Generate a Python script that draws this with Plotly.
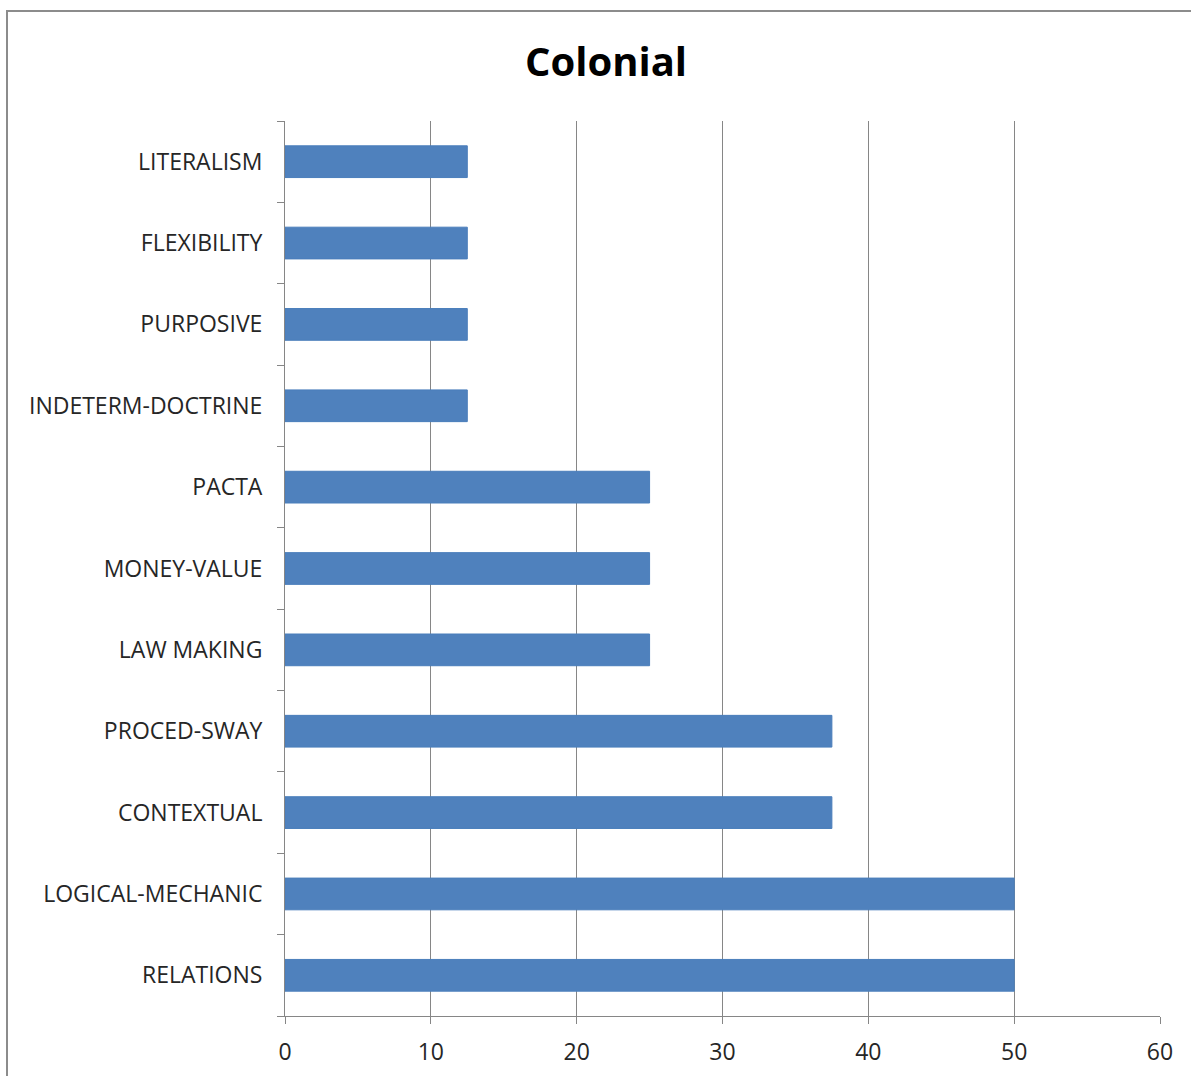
import plotly.graph_objects as go

# Categories listed bottom to top
categories = [
    "RELATIONS", "LOGICAL-MECHANIC", "CONTEXTUAL", "PROCED-SWAY",
    "LAW MAKING", "MONEY-VALUE", "PACTA", "INDETERM-DOCTRINE",
    "PURPOSIVE", "FLEXIBILITY", "LITERALISM",
]
values = [50, 50, 37.5, 37.5, 25, 25, 25, 12.5, 12.5, 12.5, 12.5]
x_ticks = [0, 10, 20, 30, 40, 50, 60]

W, H = 1191, 1076
L, R, T, B = 285, 31, 121, 60
pw, ph = W - L - R, H - T - B

font_family = "Open Sans, Lato, sans-serif"
axis_gray = "#868686"
label_color = "#262626"

fig = go.Figure(
    go.Bar(
        x=values,
        y=categories,
        orientation="h",
        width=0.39,
        marker=dict(color="#4F81BD", line=dict(color="#4A7EBB", width=1)),
        hoverinfo="x+y",
    )
)

# Outer chart frame
def px_to_paper_x(px):
    return (px - L) / pw

def px_to_paper_y(py):
    return (H - B - py) / ph

fig.add_shape(
    type="rect", xref="paper", yref="paper",
    x0=px_to_paper_x(7), x1=px_to_paper_x(W + 20),
    y0=px_to_paper_y(H + 20), y1=px_to_paper_y(11),
    line=dict(color="#8c8c8c", width=2),
    layer="below",
)

fig.update_layout(
    width=W, height=H,
    margin=dict(l=L, r=R, t=T, b=B, pad=0, autoexpand=False),
    paper_bgcolor="white",
    plot_bgcolor="white",
    showlegend=False,
    bargap=0.6,
    title=dict(
        text="<b>Colonial</b>",
        x=606 / W, xanchor="center",
        y=1 - 62 / H, yanchor="middle",
        font=dict(family=font_family, size=40, color="black"),
    ),
    xaxis=dict(
        range=[0, 60],
        tickvals=x_ticks,
        automargin=False,
        showgrid=True,
        gridcolor=axis_gray,
        gridwidth=1,
        zeroline=False,
        showline=True,
        linecolor=axis_gray,
        linewidth=1,
        ticks="outside",
        ticklen=7,
        tickcolor=axis_gray,
        ticklabelstandoff=8,
        tickfont=dict(family=font_family, size=23, color=label_color),
        fixedrange=True,
    ),
    yaxis=dict(
        type="category",
        categoryorder="array",
        categoryarray=categories,
        automargin=False,
        tickson="boundaries",
        showgrid=False,
        zeroline=False,
        showline=True,
        linecolor=axis_gray,
        linewidth=1,
        ticks="outside",
        ticklen=7,
        tickcolor=axis_gray,
        ticklabelstandoff=17,
        tickfont=dict(family=font_family, size=23, color=label_color),
        fixedrange=True,
    ),
)

fig.write_html("out.html")
